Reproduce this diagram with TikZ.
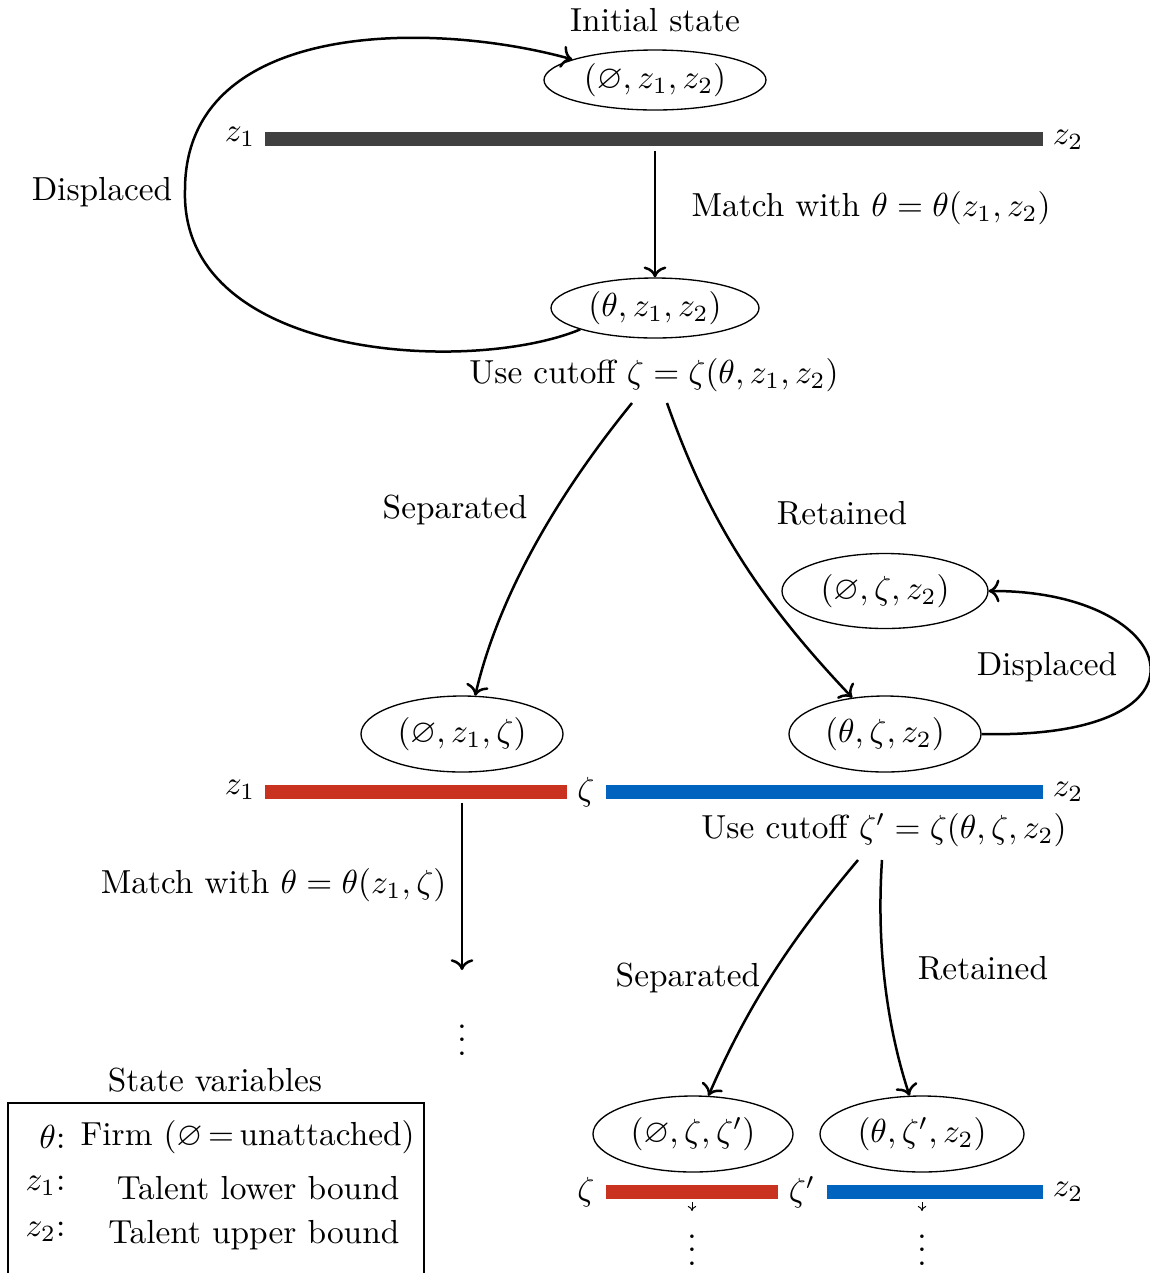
\documentclass[tikz,border=0pt]{standalone}
\usepackage{amssymb}
\usetikzlibrary{shapes.geometric,arrows.meta}
\definecolor{bargray}{RGB}{64,64,64}
\definecolor{barred}{RGB}{200,50,30}
\definecolor{barblue}{RGB}{0,100,190}
\begin{document}
\begin{tikzpicture}[x=0.3pt,y=-0.3pt,
  st/.style={draw, ellipse, line width=0.4pt, inner sep=0pt},
  flow/.style={->, line width=0.75pt},
  barline/.style={line width=4.2pt, line cap=butt},
  lbl/.style={inner sep=0pt},
  tinyarrow/.style={-{To[length=1.5pt,width=2.5pt]}, line width=0.3pt}
]
\useasboundingbox (0,0) rectangle (1150,1273);

% ---- top level
\node[lbl] (init) at (655,20) {Initial state};
\node[st, minimum width=66.6pt, minimum height=18pt] (e1) at (655,80) {$(\varnothing, z_1, z_2)$};
\coordinate (b1a) at (265,139);
\coordinate (b1b) at (1043,139);
\draw[barline, bargray] (b1a) -- (b1b);
\node[lbl] (lz1a) at (240,137) {$z_1$};
\node[lbl] (lz2a) at (1068,140) {$z_2$};
\coordinate (m1) at (655,151);
\node[st, minimum width=62.4pt, minimum height=18pt] (e2) at (655,308) {$(\theta, z_1, z_2)$};
\draw[flow] (m1) -- (e2.north);
\node[lbl, anchor=west] (match1) at (691,208) {Match with $\theta = \theta(z_1, z_2)$};
\node[lbl] (cut1) at (654,375) {Use cutoff $\zeta = \zeta(\theta, z_1, z_2)$};
\node[lbl] (disp1) at (102,192) {Displaced};
\coordinate (lft) at (185,190);
\draw[flow] (e2.196) .. controls (470,375) and (180,360) .. (lft)
  .. controls (185,20) and (430,20) .. (e1.166);

% ---- second level
\coordinate (s1) at (632,403);
\coordinate (r1) at (667,403);
\node[st, minimum width=60.6pt, minimum height=22.8pt] (e3) at (462,734) {$(\varnothing, z_1, \zeta)$};
\node[st, minimum width=61.8pt, minimum height=22.5pt] (e4) at (885,591) {$(\varnothing, \zeta, z_2)$};
\node[st, minimum width=57.6pt, minimum height=22.8pt] (e5) at (885,734) {$(\theta, \zeta, z_2)$};
\draw[flow] (s1) .. controls (545,510) and (495,610) .. (e3.71);
\draw[flow] (r1) .. controls (705,510) and (750,590) .. (e5.132);
\node[lbl] (sep1) at (455,510) {Separated};
\node[lbl] (ret1) at (842,513) {Retained};
\draw[flow] (e5.east) .. controls (1230,740) and (1180,590) .. (e4.east);
\node[lbl] (disp2) at (1047,667) {Displaced};

\coordinate (b2a) at (265,792);
\coordinate (b2b) at (567,792);
\coordinate (b2c) at (606,792);
\coordinate (b2d) at (1043,792);
\draw[barline, barred] (b2a) -- (b2b);
\draw[barline, barblue] (b2c) -- (b2d);
\node[lbl] (lz1b) at (240,790) {$z_1$};
\node[lbl] (lzetab) at (586,792) {$\zeta$};
\node[lbl] (lz2b) at (1068,792) {$z_2$};
\node[lbl] (cut2) at (884,830) {Use cutoff $\zeta' = \zeta(\theta, \zeta, z_2)$};

\coordinate (m2a) at (462,803);
\coordinate (m2b) at (462,970);
\draw[flow] (m2a) -- (m2b);
\node[lbl, anchor=east] (match2) at (447,885) {Match with $\theta = \theta(z_1, \zeta)$};
\node[lbl] (dots1) at (462,1030) {$\vdots$};

% ---- third level
\coordinate (s2) at (858,860);
\coordinate (r2) at (882,860);
\node[st, minimum width=60pt, minimum height=22.8pt] (e6) at (693,1134) {$(\varnothing, \zeta, \zeta')$};
\node[st, minimum width=61.2pt, minimum height=22.8pt] (e7) at (922,1134) {$(\theta, \zeta', z_2)$};
\draw[flow] (s2) .. controls (795,935) and (750,1000) .. (e6.68);
\draw[flow] (r2) .. controls (876,950) and (888,1030) .. (e7.108);
\node[lbl] (sep2) at (688,978) {Separated};
\node[lbl] (ret2) at (983,968) {Retained};

\coordinate (b3a) at (606,1192);
\coordinate (b3b) at (778,1192);
\coordinate (b3c) at (827,1192);
\coordinate (b3d) at (1043,1192);
\draw[barline, barred] (b3a) -- (b3b);
\draw[barline, barblue] (b3c) -- (b3d);
\node[lbl] (lzetac) at (586,1192) {$\zeta$};
\node[lbl] (lzetapc) at (802,1192) {$\zeta'$};
\node[lbl] (lz2c) at (1068,1192) {$z_2$};

\coordinate (t1a) at (692,1202);
\coordinate (t1b) at (692,1211);
\coordinate (t2a) at (922,1202);
\coordinate (t2b) at (922,1211);
\draw[tinyarrow] (t1a) -- (t1b);
\draw[tinyarrow] (t2a) -- (t2b);
\node[lbl] (dots2) at (692,1240) {$\vdots$};
\node[lbl] (dots3) at (922,1240) {$\vdots$};

% ---- legend
\node[lbl] (legtitle) at (215,1080) {State variables};
\draw[line width=0.4pt] (8,1103) rectangle (424,1300);
\node[lbl, anchor=east] (k1) at (66,1137) {$\theta$:};
\node[lbl, anchor=west] (v1) at (80,1137) {Firm ($\varnothing$\,=\,unattached)};
\node[lbl, anchor=east] (k2) at (66,1186) {$z_1$:};
\node[lbl, anchor=east] (v2) at (400,1188) {Talent lower bound};
\node[lbl, anchor=east] (k3) at (66,1232) {$z_2$:};
\node[lbl, anchor=east] (v3) at (400,1235) {Talent upper bound};
\end{tikzpicture}
\end{document}
